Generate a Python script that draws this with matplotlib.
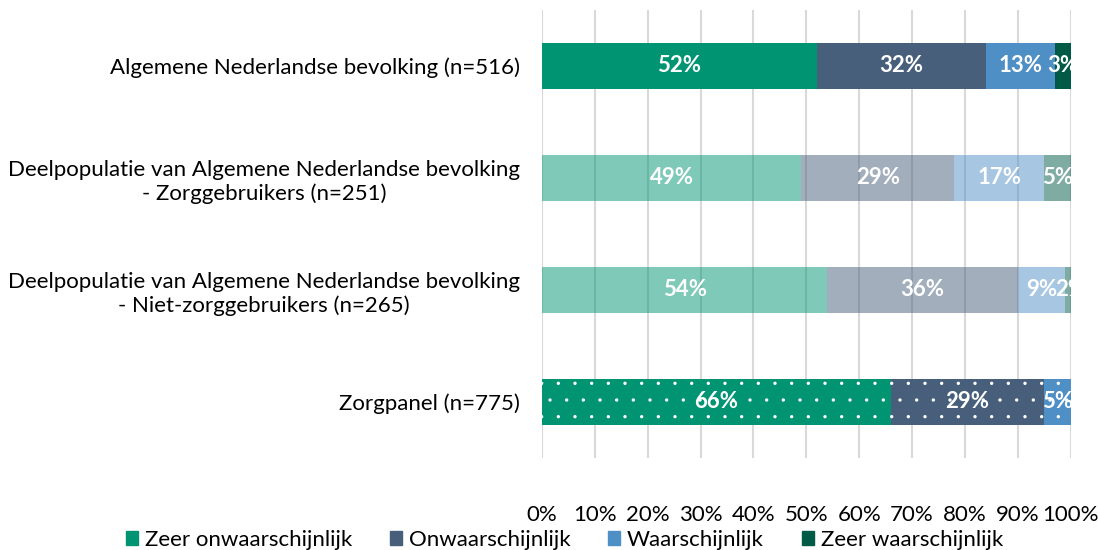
import numpy as np
import matplotlib.pyplot as plt
from matplotlib.patches import Patch

# ==== DATA ====
categorieen = [
    "Algemene Nederlandse bevolking (n=516)",
    "Deelpopulatie van Algemene Nederlandse bevolking\n- Zorggebruikers (n=251)",
    "Deelpopulatie van Algemene Nederlandse bevolking\n- Niet-zorggebruikers (n=265)",
    "Zorgpanel (n=775)",
]
reeksen = ["Zeer onwaarschijnlijk", "Onwaarschijnlijk", "Waarschijnlijk", "Zeer waarschijnlijk"]
zeer_onwaarschijnlijk = [52, 49, 54, 66]
onwaarschijnlijk = [32, 29, 36, 29]
waarschijnlijk = [13, 17, 9, 5]
zeer_waarschijnlijk = [3, 5, 2, 0]

kleuren = ["#009473", "#475F7B", "#4E8FC6", "#005A46"]
transparant = [1.0, 0.5, 0.5, 1.0]   # per rij
gestippeld = [False, False, False, True]

plt.rcParams['font.family'] = ['Lato', 'DejaVu Sans']
plt.rcParams['hatch.color'] = 'white'
plt.rcParams['hatch.linewidth'] = 0.0

fig = plt.figure(figsize=(10.98, 5.5), dpi=100)
ax = fig.add_axes([542/1098, 1 - 458/550, (1070.7 - 542)/1098, 448/550])

waarden = [zeer_onwaarschijnlijk, onwaarschijnlijk, waarschijnlijk, zeer_waarschijnlijk]
y = np.arange(len(categorieen))
links = np.zeros(len(categorieen))
for reeks, kleur in zip(waarden, kleuren):
    reeks = np.array(reeks, dtype=float)
    for i in range(len(categorieen)):
        if reeks[i] <= 0:
            continue
        fc = plt.matplotlib.colors.to_rgba(kleur, transparant[i])
        ax.barh(y[i], reeks[i], left=links[i], height=0.405, color=fc,
                edgecolor='white' if gestippeld[i] else fc, linewidth=0,
                hatch='.' if gestippeld[i] else None, zorder=2)
        ax.text(links[i] + reeks[i] / 2, y[i], f"{int(reeks[i])}%", ha='center', va='center',
                color='white', fontsize=16, fontweight='bold', zorder=3)
    links += reeks

ax.set_xlim(0, 100)
ax.set_ylim(3.5, -0.5)
ax.set_xticks(np.arange(0, 101, 10))
ax.set_xticklabels([f"{v}%" for v in range(0, 101, 10)], fontsize=16)
ax.set_yticks(y)
ax.set_yticklabels(categorieen, fontsize=16, ha='right', multialignment='center')
ax.tick_params(axis='x', length=0, pad=34)
ax.tick_params(axis='y', length=0, pad=16)
ax.grid(axis='x', color='#d9d9d9', linewidth=1.5, zorder=0)
ax.set_axisbelow(True)
for s in ax.spines.values():
    s.set_visible(False)

handles = [Patch(facecolor=k, edgecolor=k) for k in kleuren]
fig.legend(handles, reeksen, loc='center', bbox_to_anchor=(0.514, 1 - 540/550), ncol=4,
           frameon=False, fontsize=16, handlelength=0.55, handleheight=0.55,
           handletextpad=0.3, columnspacing=1.7, borderpad=0)

fig.savefig("out.png", dpi=100)
